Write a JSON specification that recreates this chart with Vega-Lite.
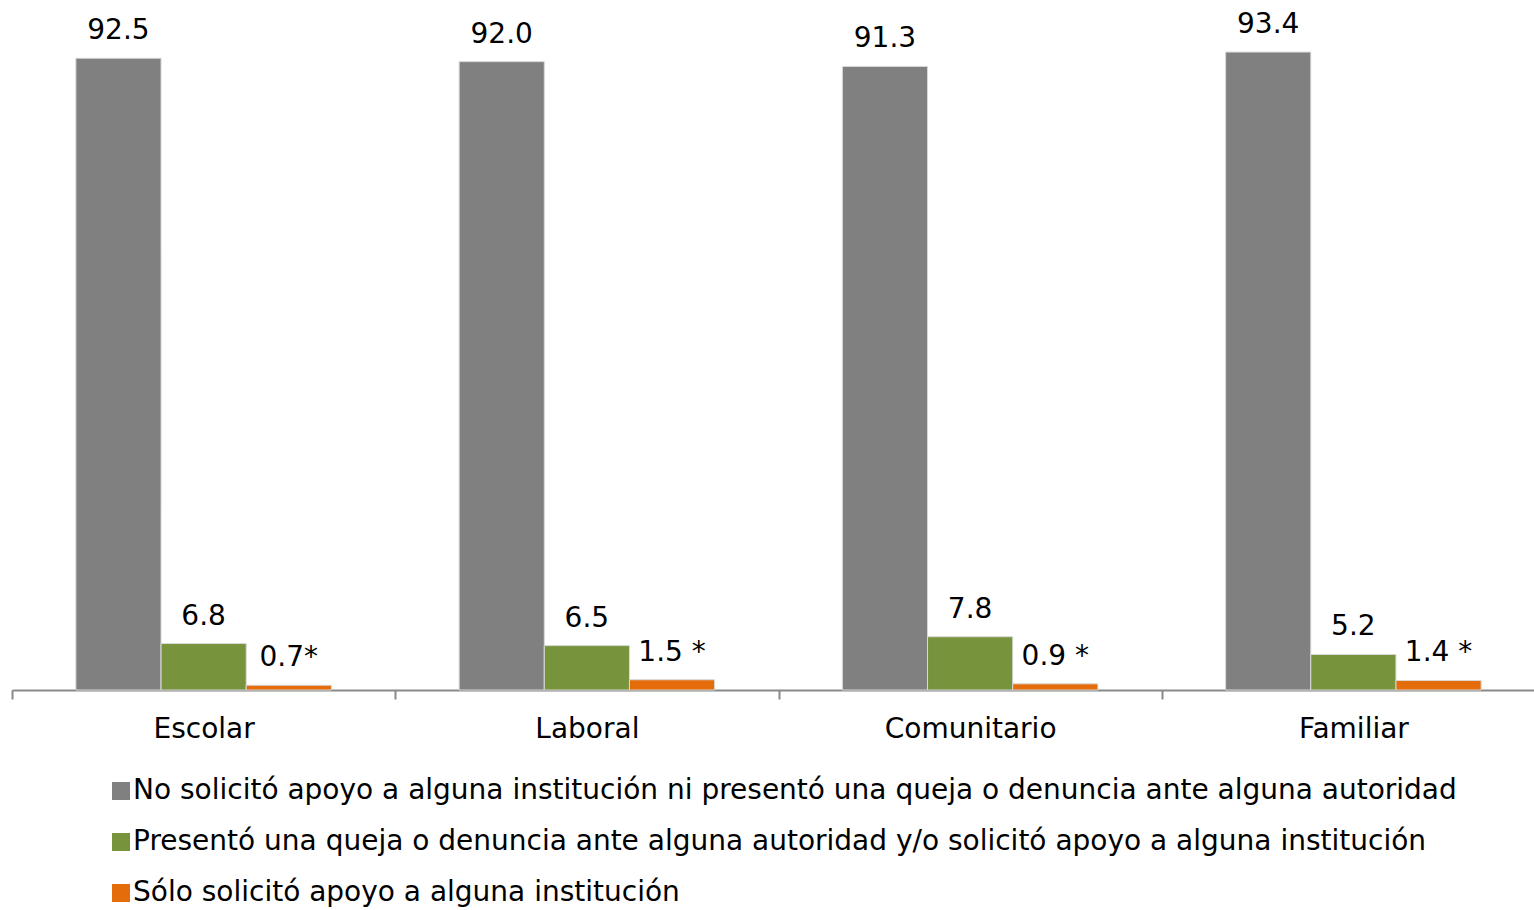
{
  "$schema": "https://vega.github.io/schema/vega-lite/v6.json",
  "width": 1533,
  "height": 683,
  "autosize": {"type": "none"},
  "padding": {"left": 12, "top": 7, "right": 0, "bottom": 220},
  "background": "white",
  "config": {"view": {"stroke": null}},
  "data": {
    "values": [
      {"cat": "Escolar", "serie": "No solicitó apoyo a alguna institución ni presentó una queja o denuncia ante alguna autoridad", "valor": 92.5, "etiqueta": "92.5"},
      {"cat": "Escolar", "serie": "Presentó una queja o denuncia ante alguna autoridad y/o solicitó apoyo a alguna institución", "valor": 6.8, "etiqueta": "6.8"},
      {"cat": "Escolar", "serie": "Sólo solicitó apoyo a alguna institución", "valor": 0.7, "etiqueta": "0.7*"},
      {"cat": "Laboral", "serie": "No solicitó apoyo a alguna institución ni presentó una queja o denuncia ante alguna autoridad", "valor": 92.0, "etiqueta": "92.0"},
      {"cat": "Laboral", "serie": "Presentó una queja o denuncia ante alguna autoridad y/o solicitó apoyo a alguna institución", "valor": 6.5, "etiqueta": "6.5"},
      {"cat": "Laboral", "serie": "Sólo solicitó apoyo a alguna institución", "valor": 1.5, "etiqueta": "1.5 *"},
      {"cat": "Comunitario", "serie": "No solicitó apoyo a alguna institución ni presentó una queja o denuncia ante alguna autoridad", "valor": 91.3, "etiqueta": "91.3"},
      {"cat": "Comunitario", "serie": "Presentó una queja o denuncia ante alguna autoridad y/o solicitó apoyo a alguna institución", "valor": 7.8, "etiqueta": "7.8"},
      {"cat": "Comunitario", "serie": "Sólo solicitó apoyo a alguna institución", "valor": 0.9, "etiqueta": "0.9 *"},
      {"cat": "Familiar", "serie": "No solicitó apoyo a alguna institución ni presentó una queja o denuncia ante alguna autoridad", "valor": 93.4, "etiqueta": "93.4"},
      {"cat": "Familiar", "serie": "Presentó una queja o denuncia ante alguna autoridad y/o solicitó apoyo a alguna institución", "valor": 5.2, "etiqueta": "5.2"},
      {"cat": "Familiar", "serie": "Sólo solicitó apoyo a alguna institución", "valor": 1.4, "etiqueta": "1.4 *"}
    ]
  },
  "encoding": {
    "x": {
      "field": "cat", "type": "nominal",
      "sort": ["Escolar", "Laboral", "Comunitario", "Familiar"],
      "scale": {"paddingInner": 0, "paddingOuter": 0},
      "axis": {
        "title": null, "labelAngle": 0, "tickBand": "extent", "tickSize": 9,
        "domainColor": "#898989", "tickColor": "#898989", "domainWidth": 2, "tickWidth": 2,
        "labelFont": "DejaVu Sans", "labelFontSize": 28, "labelColor": "#000000",
        "labelPadding": 16
      }
    },
    "xOffset": {
      "field": "serie", "type": "nominal",
      "sort": [
        "No solicitó apoyo a alguna institución ni presentó una queja o denuncia ante alguna autoridad",
        "Presentó una queja o denuncia ante alguna autoridad y/o solicitó apoyo a alguna institución",
        "Sólo solicitó apoyo a alguna institución"
      ],
      "scale": {"paddingInner": 0, "paddingOuter": 0.75}
    },
    "y": {"field": "valor", "type": "quantitative", "scale": {"domain": [0, 100]}, "axis": null}
  },
  "layer": [
    {
      "mark": {"type": "bar", "stroke": "#d9d9d9", "strokeWidth": 1},
      "encoding": {
        "color": {
          "field": "serie", "type": "nominal",
          "scale": {
            "domain": [
              "No solicitó apoyo a alguna institución ni presentó una queja o denuncia ante alguna autoridad",
              "Presentó una queja o denuncia ante alguna autoridad y/o solicitó apoyo a alguna institución",
              "Sólo solicitó apoyo a alguna institución"
            ],
            "range": ["#808080", "#77933C", "#E46C0A"]
          },
          "legend": {
            "title": null, "orient": "none", "legendX": 95, "legendY": 770,
            "direction": "vertical", "padding": 0, "offset": 0,
            "symbolType": "square", "symbolSize": 324, "symbolStrokeWidth": 0,
            "labelFont": "DejaVu Sans", "labelFontSize": 28, "labelColor": "#000000",
            "labelLimit": 0, "labelOffset": -2, "rowPadding": 23
          }
        }
      }
    },
    {
      "mark": {"type": "text", "baseline": "alphabetic", "dy": -19, "font": "DejaVu Sans", "fontSize": 28, "color": "#000000"},
      "encoding": {"text": {"field": "etiqueta"}}
    }
  ]
}
